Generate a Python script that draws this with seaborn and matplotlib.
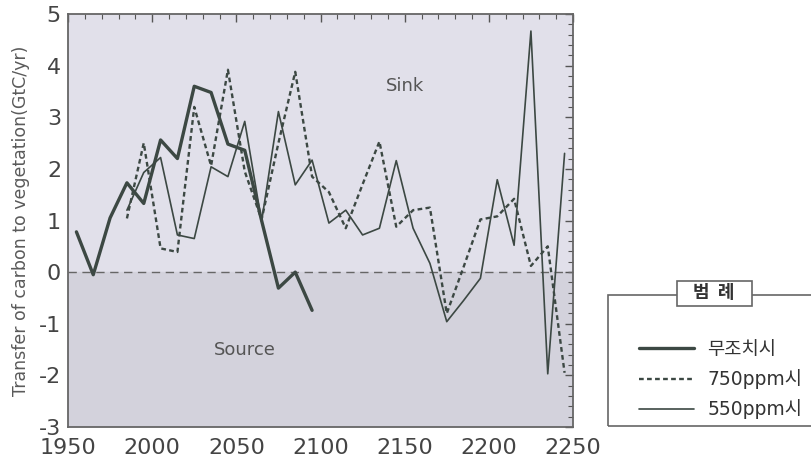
import numpy as np
import pandas as pd
import seaborn as sns
import matplotlib.pyplot as plt
from matplotlib.patches import Rectangle
from matplotlib.ticker import MultipleLocator

# values
years_none = [1955, 1965, 1975, 1985, 1995, 2005, 2015, 2025, 2035, 2045,
              2055, 2065, 2075, 2085, 2095]
flux_none = [0.78, -0.05, 1.05, 1.73, 1.33, 2.56, 2.2, 3.6, 3.48, 2.48,
             2.36, 1.0, -0.31, 0.0, -0.74]

years_scen = [1985, 1995, 2005, 2015, 2025, 2035, 2045, 2055, 2065, 2075,
              2085, 2095, 2105, 2115, 2125, 2135, 2145, 2155, 2165, 2175,
              2185, 2195, 2205, 2215, 2225, 2235, 2245]
flux_750 = [1.04, 2.5, 0.46, 0.39, 3.2, 2.06, 3.92, 1.95, 1.02, 2.5,
            3.88, 1.85, 1.55, 0.85, 1.7, 2.53, 0.88, 1.2, 1.25, -0.8,
            0.1, 1.02, 1.08, 1.42, 0.12, 0.5, -1.95]
flux_550 = [1.2, 1.93, 2.22, 0.72, 0.65, 2.04, 1.85, 2.92, 0.98, 3.11,
            1.69, 2.17, 0.95, 1.2, 0.72, 0.85, 2.16, 0.85, 0.17, -0.96,
            -0.55, -0.12, 1.79, 0.52, 4.67, -1.97, 2.3]

labels = ["무조치시", "750ppm시", "550ppm시"]

sns.set_theme(style="white")
plt.rcParams['font.family'] = ['DejaVu Sans', 'Noto Sans CJK KR']
plt.rcParams['axes.unicode_minus'] = False

ink = "#3c4843"
fig = plt.figure(figsize=(8.12, 4.61), dpi=100)
ax = fig.add_axes([68 / 812, 34 / 461, 505 / 812, 413 / 461])

# sink / source shading and zero line
ax.axhspan(0, 5, color="#e1e0ea", zorder=0)
ax.axhspan(-3, 0, color="#d3d2dc", zorder=0)
ax.axhline(0, color="#666666", lw=1, ls=(0, (6, 4)), zorder=1)

sns.lineplot(x=years_none, y=flux_none, ax=ax, color=ink, lw=2.4, label=labels[0])
sns.lineplot(x=years_scen, y=flux_750, ax=ax, color=ink, lw=1.7,
             ls=(0, (2, 1.4)), label=labels[1])
sns.lineplot(x=years_scen, y=flux_550, ax=ax, color=ink, lw=1.2, label=labels[2])
handles, hlabels = ax.get_legend_handles_labels()
ax.get_legend().remove()

ax.set_xlim(1950, 2250)
ax.set_ylim(-3, 5)
ax.xaxis.set_major_locator(MultipleLocator(50))
ax.xaxis.set_minor_locator(MultipleLocator(10))
ax.yaxis.set_major_locator(MultipleLocator(1))
ax.yaxis.set_minor_locator(MultipleLocator(0.2))
ax.tick_params(which="both", direction="in", top=True, right=True,
               color="#555555", labelcolor="#444444", labelsize=16)
ax.tick_params(which="major", length=6, width=1, pad=5)
ax.tick_params(axis="x", which="major", pad=8)
ax.tick_params(which="minor", length=3.5, width=0.8)
for lab in ax.get_xticklabels() + ax.get_yticklabels():
    lab.set_family(['Liberation Sans Narrow', 'DejaVu Sans'])
for s in ax.spines.values():
    s.set_color("#666666")
    s.set_linewidth(1.3)

ax.set_ylabel("Transfer of carbon to vegetation(GtC/yr)", fontsize=12.5,
              color="#5a5a5a", labelpad=6)
ax.set_xlabel("")

ax.text(2150, 3.6, "Sink", fontsize=13, color="#555555", ha="center", va="center")
ax.text(2055, -1.5, "Source", fontsize=13, color="#555555", ha="center", va="center")

# legend box with title tab
H = 461
fig.patches.append(Rectangle((608 / 812, (H - 426) / H), 210 / 812, 131 / H,
                             transform=fig.transFigure, fill=False,
                             ec="#666666", lw=1.2))
fig.patches.append(Rectangle((677 / 812, (H - 306) / H), 75 / 812, 25 / H,
                             transform=fig.transFigure, fc="white",
                             ec="#666666", lw=1.2))
fig.text(714 / 812, (H - 293) / H, "범  례", fontsize=13, ha="center", va="center",
         family=['Noto Sans CJK KR'], weight="bold", color="#333333")
fig.legend(handles, hlabels, loc="upper left",
           bbox_to_anchor=(622 / 812, (H - 323) / H), frameon=False,
           handlelength=2.95, handletextpad=0.7, labelspacing=0.55,
           labelcolor="#333333",
           prop={'family': ['DejaVu Sans', 'Noto Sans CJK KR'], 'size': 13.5})

fig.savefig("out.png", dpi=100, facecolor="white")
